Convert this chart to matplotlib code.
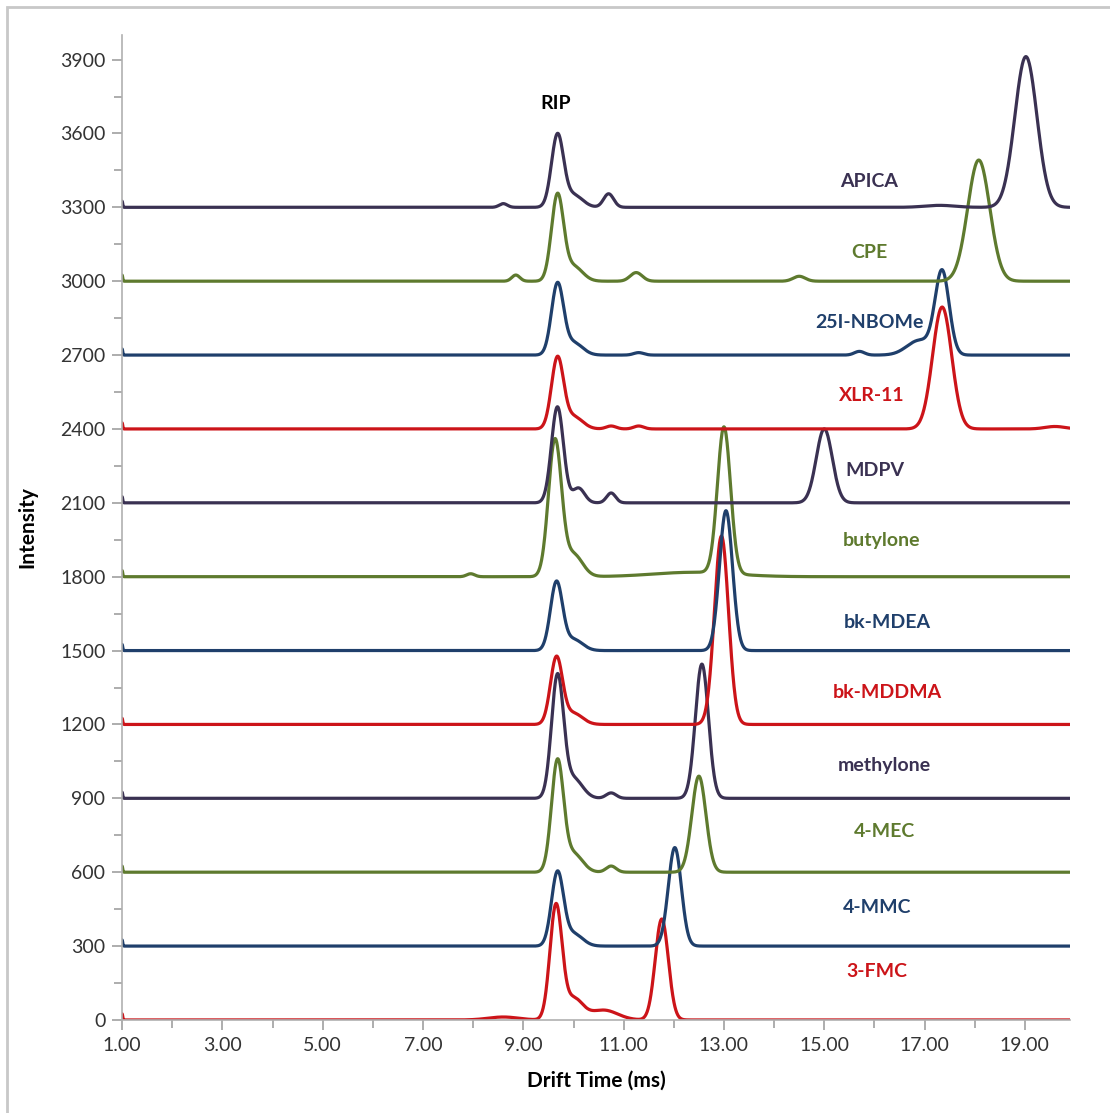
import matplotlib.pyplot as plt
import numpy as np
from matplotlib.patches import Rectangle
from matplotlib.ticker import MultipleLocator

plt.rcParams['font.family'] = ['Lato', 'DejaVu Sans']

# compounds from bottom to top
names = ['3-FMC', '4-MMC', '4-MEC', 'methylone', 'bk-MDDMA', 'bk-MDEA',
         'butylone', 'MDPV', 'XLR-11', '25I-NBOMe', 'CPE', 'APICA']
offsets = [0, 300, 600, 900, 1200, 1500, 1800, 2100, 2400, 2700, 3000, 3300]
colors = ['#cc1419', '#1f3f6b', '#5e7a2e', '#3a3152', '#cc1419', '#1f3f6b',
          '#5e7a2e', '#3a3152', '#cc1419', '#1f3f6b', '#5e7a2e', '#3a3152']

# peaks: (drift time ms, height above baseline, width sigma)
peaks = {
    '3-FMC':     [(8.6, 12, 0.3), (9.65, 460, 0.12), (10.0, 85, 0.18), (10.6, 40, 0.28),
                  (11.76, 410, 0.13)],
    '4-MMC':     [(9.68, 295, 0.12), (10.0, 50, 0.18), (12.02, 400, 0.13)],
    '4-MEC':     [(9.68, 445, 0.12), (10.0, 75, 0.18), (10.75, 25, 0.10), (12.5, 390, 0.14)],
    'methylone': [(9.68, 490, 0.12), (10.0, 80, 0.18), (10.75, 22, 0.10), (12.56, 545, 0.13)],
    'bk-MDDMA':  [(9.66, 270, 0.12), (10.0, 45, 0.18), (12.95, 765, 0.14)],
    'bk-MDEA':   [(9.66, 275, 0.12), (10.0, 45, 0.18), (13.04, 568, 0.13)],
    'butylone':  [(7.95, 12, 0.08), (9.63, 550, 0.13), (10.0, 90, 0.18), (12.4, 18, 0.8),
                  (13.0, 595, 0.13)],
    'MDPV':      [(9.68, 390, 0.12), (10.1, 60, 0.12), (10.75, 40, 0.09), (15.0, 300, 0.16)],
    'XLR-11':    [(9.68, 285, 0.12), (10.0, 50, 0.18), (10.75, 12, 0.1), (11.3, 12, 0.1),
                  (17.35, 495, 0.19), (19.6, 10, 0.2)],
    '25I-NBOMe': [(9.68, 285, 0.12), (10.0, 50, 0.18), (11.3, 10, 0.1), (15.7, 15, 0.1),
                  (16.9, 60, 0.25), (17.35, 335, 0.14)],
    'CPE':       [(8.85, 25, 0.08), (9.68, 345, 0.12), (10.0, 60, 0.18), (11.25, 35, 0.12),
                  (14.5, 20, 0.12), (18.08, 492, 0.22)],
    'APICA':     [(8.6, 15, 0.08), (9.68, 290, 0.12), (10.0, 50, 0.18), (10.7, 55, 0.1),
                  (17.3, 8, 0.3), (19.02, 612, 0.22)],
}
start_spike = 25

label_x = [16.05, 16.05, 16.2, 16.2, 16.25, 16.25, 16.15, 16.0, 15.95, 15.9, 15.9, 15.9]
label_y = [195, 455, 765, 1035, 1330, 1615, 1948, 2233, 2537, 2833, 3117, 3405]

drift = np.linspace(1.0, 19.9, 3000)

fig = plt.figure(figsize=(11.10, 11.13), dpi=100)
ax = fig.add_axes([0.110, 0.0836, 0.854, 0.885])

for name, off, col, lx, ly in zip(names, offsets, colors, label_x, label_y):
    y = np.full_like(drift, float(off))
    for c, h, s in peaks[name]:
        y += h * np.exp(-0.5 * ((drift - c) / s) ** 2)
    y += start_spike * np.exp(-0.5 * ((drift - 1.0) / 0.012) ** 2)
    ax.plot(drift, y, color=col, lw=2.3, solid_capstyle='round')
    ax.text(lx, ly, name, color=col, fontsize=14, fontweight='bold',
            ha='center', va='center')

ax.text(9.65, 3723, 'RIP', color='black', fontsize=14, fontweight='bold',
        ha='center', va='center')

ax.set_xlim(1.0, 19.9)
ax.set_ylim(0, 4000)
ax.xaxis.set_minor_locator(MultipleLocator(1))
ax.yaxis.set_minor_locator(MultipleLocator(150))
ax.set_xticks(np.arange(1, 20, 2))
ax.set_xticklabels([f'{v:.2f}' for v in np.arange(1, 20, 2)])
ax.set_yticks(np.arange(0, 4000, 300))

for s in ['top', 'right']:
    ax.spines[s].set_visible(False)
for s in ['left', 'bottom']:
    ax.spines[s].set_color('#b0b0b0')
    ax.spines[s].set_linewidth(1.2)
ax.tick_params(which='both', direction='out', color='#a0a0a0', width=1.2,
               labelsize=14, labelcolor='#333333')
ax.tick_params(which='major', length=7, pad=5)
ax.tick_params(which='minor', length=6)

ax.set_xlabel('Drift Time (ms)', fontsize=15, fontweight='bold', labelpad=12)
ax.set_ylabel('Intensity', fontsize=15, fontweight='bold', labelpad=16)

fig.patches.append(Rectangle((7 / 1110, -0.05), 1.1, 1 - 7 / 1113 + 0.05,
                             transform=fig.transFigure, fill=False,
                             edgecolor='#c8c8c8', lw=2))

plt.savefig('out.png', dpi=100)
